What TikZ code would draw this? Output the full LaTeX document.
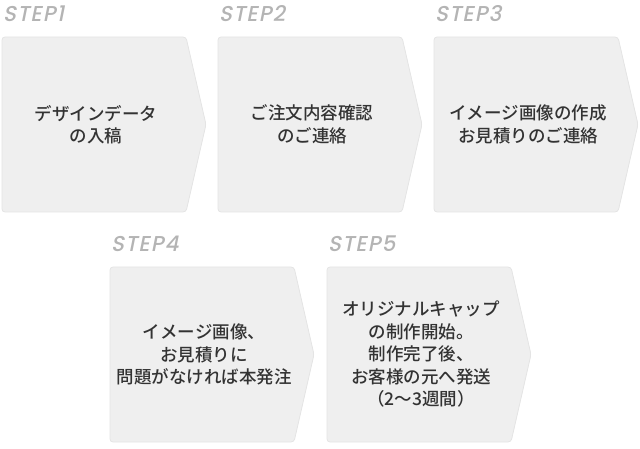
\documentclass[tikz,border=0pt]{standalone}
\usepackage{fontspec}
\setmainfont[BoldFont={Noto Sans CJK JP Bold}]{Noto Sans CJK JP Medium}
\newfontfamily\stepfont[FakeSlant=0.2,LetterSpace=5]{Poppins Medium}
\usetikzlibrary{positioning}
\definecolor{flGray}{HTML}{EFEFEF}
\definecolor{flEdge}{HTML}{E4E4E4}
\definecolor{flLabel}{HTML}{B4B4B4}
\definecolor{flText}{HTML}{333333}

\begin{document}
\begin{tikzpicture}[
  x=1pt,y=-1pt,
  chevron/.style={rounded corners=3pt, draw=flEdge, fill=flGray,
                  line width=.8pt},
  steplabel/.style={font=\stepfont\fontsize{21.5}{24}\selectfont,
                    text=flLabel, anchor=west, inner sep=0pt},
  body/.style={font=\fontsize{17.5}{22.5}\selectfont, text=flText,
               align=center, inner sep=0pt},
]
  \path[use as bounding box] (0,0) rectangle (640,449);

  % five chevrons, two rows
  \foreach \n/\x/\y/\txt in {
      1/2/37/{デザインデータ\\の入稿},
      2/218/37/{ご注文内容確認\\のご連絡},
      3/434/37/{イメージ画像の作成\\お見積りのご連絡},
      4/110/267/{イメージ画像、\\お見積りに\\問題がなければ本発注},
      5/327/267/{オリジナルキャップ\\の制作開始。\\制作完了後、\\お客様の元へ発送\\（2〜3週間）}} {
    \draw[chevron] (\x,\y) -- ({\x+184},\y) -- ({\x+204},{\y+87.5})
      -- ({\x+184},{\y+175}) -- (\x,{\y+175}) -- cycle;
    \node[steplabel] (label\n) at ({\x+1},{\y-23}) {STEP\n};
    \node[body] (text\n) at ({\x+94},{\y+87.5}) {\txt};
  }
\end{tikzpicture}
\end{document}
